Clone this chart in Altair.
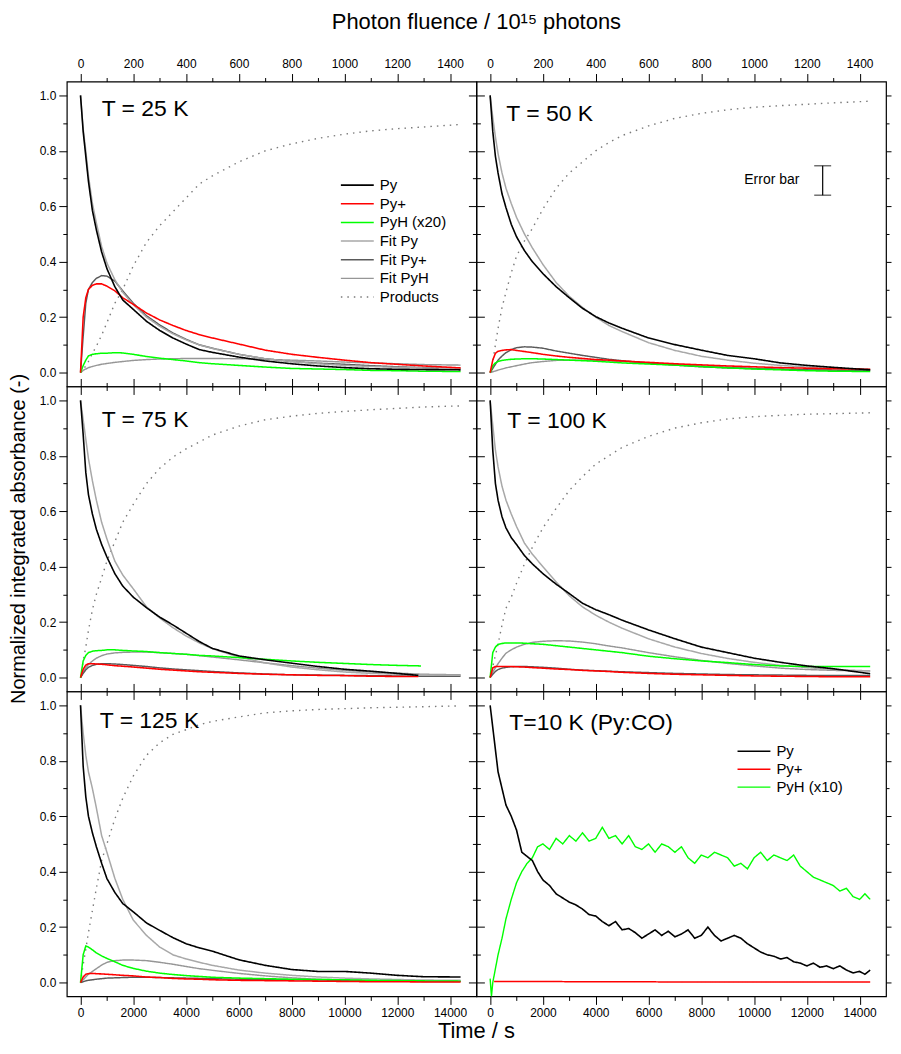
import altair as alt
import pandas as pd

FONT = "Liberation Sans"
W, H = 411, 306
X_DOMAIN = [-520, 15000]
Y_DOMAIN = [-0.05, 1.05]
X_MAJOR = [0, 2000, 4000, 6000, 8000, 10000, 12000, 14000]
X_MINOR = [1000, 3000, 5000, 7000, 9000, 11000, 13000]
Y_MAJOR = [0.0, 0.2, 0.4, 0.6, 0.8, 1.0]
Y_MINOR = [0.1, 0.3, 0.5, 0.7, 0.9]

# ---- time grids (s); photon fluence on the top axis is time / 10
t_grid = [0, 100, 200, 300, 450, 600, 800, 1000, 1300, 1600, 2000, 2500, 3000,
          3500, 4000, 4500, 5000, 6000, 7000, 8000, 9000, 10000, 11000, 12000,
          13000, 14400]
t_75_end = [0, 100, 200, 300, 450, 600, 800, 1000, 1300, 1600, 2000, 2500, 3000,
            3500, 4000, 4500, 5000, 6000, 7000, 8000, 9000, 10000, 11000, 12000, 12800]
t_75_pyh = [0, 100, 200, 300, 450, 600, 800, 1000, 1300, 1600, 2000, 2500, 3000,
            3500, 4000, 4500, 5000, 6000, 7000, 8000, 9000, 10000, 11000, 12000, 12900]
t_10 = [0, 50, 100, 200, 300, 450, 600, 800, 1000, 1200, 1400, 1600, 1800, 2000,
        2250, 2500, 2750, 3000, 3250, 3500, 3750, 4000, 4250, 4500, 4750, 5000,
        5250, 5500, 5750, 6000, 6250, 6500, 6750, 7000, 7250, 7500, 7750, 8000,
        8250, 8500, 8750, 9000, 9250, 9500, 9750, 10000, 10250, 10500, 10750, 11000,
        11250, 11500, 11750, 12000, 12250, 12500, 12750, 13000, 13250, 13500, 13750,
        14000, 14200, 14400]
t_10_pyp = [150, 4000, 8000, 14400]

# ---- T = 25 K
py25 = [1.0, 0.87, 0.78, 0.69, 0.585, 0.515, 0.435, 0.375, 0.31, 0.262, 0.228, 0.185, 0.152,
        0.125, 0.103, 0.083, 0.073, 0.056, 0.042, 0.032, 0.024, 0.018, 0.014, 0.012, 0.011, 0.01]
pyp25 = [0, 0.2, 0.27, 0.30, 0.315, 0.32, 0.32, 0.312, 0.295, 0.27, 0.246, 0.215, 0.19,
         0.17, 0.152, 0.137, 0.125, 0.103, 0.081, 0.066, 0.055, 0.045, 0.036, 0.03, 0.024, 0.017]
pyh25 = [0, 0.025, 0.045, 0.06, 0.066, 0.068, 0.07, 0.07, 0.072, 0.071, 0.066, 0.058, 0.052,
         0.047, 0.042, 0.036, 0.032, 0.026, 0.02, 0.015, 0.013, 0.011, 0.008, 0.007, 0.005, 0.004]
fpy25 = [1.0, 0.88, 0.80, 0.71, 0.61, 0.54, 0.455, 0.395, 0.335, 0.29, 0.245, 0.2, 0.167,
         0.14, 0.118, 0.1, 0.087, 0.066, 0.05, 0.04, 0.032, 0.026, 0.022, 0.019, 0.017, 0.015]
fpyp25 = [0, 0.13, 0.25, 0.3, 0.325, 0.34, 0.35, 0.348, 0.33, 0.295, 0.25, 0.205, 0.172,
          0.143, 0.12, 0.1, 0.088, 0.066, 0.05, 0.04, 0.034, 0.03, 0.025, 0.021, 0.018, 0.015]
fpyh25 = [0, 0.008, 0.013, 0.018, 0.022, 0.026, 0.03, 0.033, 0.037, 0.04, 0.044, 0.047, 0.049,
          0.05, 0.051, 0.051, 0.051, 0.05, 0.048, 0.045, 0.042, 0.038, 0.035, 0.032, 0.029, 0.027]
prod25 = [0, 0.01, 0.025, 0.04, 0.07, 0.095, 0.135, 0.18, 0.25, 0.30, 0.385, 0.47, 0.53,
          0.58, 0.63, 0.68, 0.71, 0.76, 0.80, 0.825, 0.845, 0.86, 0.872, 0.88, 0.886, 0.895]

# ---- T = 50 K
py50 = [1.0, 0.87, 0.78, 0.72, 0.645, 0.595, 0.535, 0.49, 0.44, 0.4, 0.357, 0.31, 0.27,
        0.232, 0.202, 0.179, 0.16, 0.125, 0.101, 0.081, 0.062, 0.05, 0.035, 0.026, 0.019, 0.01]
pyp50 = [0, 0.045, 0.07, 0.077, 0.08, 0.082, 0.083, 0.08, 0.076, 0.072, 0.066, 0.06, 0.055,
         0.051, 0.047, 0.045, 0.042, 0.037, 0.032, 0.028, 0.024, 0.021, 0.018, 0.016, 0.014, 0.012]
pyh50 = [0, 0.025, 0.035, 0.04, 0.044, 0.046, 0.048, 0.049, 0.05, 0.05, 0.049, 0.047, 0.045,
         0.043, 0.041, 0.038, 0.035, 0.031, 0.027, 0.022, 0.017, 0.013, 0.01, 0.007, 0.005, 0.004]
fpy50 = [1.0, 0.92, 0.85, 0.79, 0.72, 0.665, 0.61, 0.56, 0.5, 0.45, 0.39, 0.325, 0.275,
         0.235, 0.2, 0.17, 0.148, 0.108, 0.08, 0.059, 0.045, 0.034, 0.026, 0.02, 0.015, 0.012]
fpyp50 = [0, 0.015, 0.03, 0.045, 0.06, 0.072, 0.083, 0.09, 0.093, 0.092, 0.088, 0.078, 0.07,
          0.062, 0.055, 0.048, 0.043, 0.034, 0.027, 0.021, 0.017, 0.014, 0.012, 0.01, 0.009, 0.008]
fpyh50 = [0, 0.003, 0.006, 0.009, 0.013, 0.017, 0.021, 0.025, 0.031, 0.036, 0.04, 0.044, 0.045,
          0.045, 0.044, 0.042, 0.04, 0.035, 0.03, 0.025, 0.02, 0.016, 0.013, 0.011, 0.009, 0.008]
prod50 = [0, 0.04, 0.1, 0.16, 0.235, 0.29, 0.36, 0.42, 0.475, 0.52, 0.59, 0.665, 0.72,
          0.76, 0.8, 0.83, 0.855, 0.89, 0.917, 0.935, 0.948, 0.957, 0.963, 0.968, 0.973, 0.979]

# ---- T = 75 K (measured curves stop near 12800 s)
py75 = [1.0, 0.877, 0.74, 0.66, 0.59, 0.535, 0.48, 0.435, 0.375, 0.33, 0.29, 0.252, 0.218,
        0.19, 0.16, 0.13, 0.105, 0.078, 0.064, 0.052, 0.04, 0.03, 0.023, 0.015, 0.008]
pyp75 = [0, 0.03, 0.045, 0.05, 0.05, 0.049, 0.048, 0.046, 0.043, 0.041, 0.038, 0.034, 0.03,
         0.027, 0.024, 0.021, 0.019, 0.015, 0.012, 0.01, 0.008, 0.007, 0.005, 0.004, 0.004]
pyh75 = [0, 0.06, 0.08, 0.09, 0.095, 0.097, 0.098, 0.1, 0.1, 0.098, 0.096, 0.094, 0.09,
         0.087, 0.084, 0.08, 0.078, 0.072, 0.066, 0.06, 0.055, 0.051, 0.047, 0.044, 0.042]
fpy75 = [1.0, 0.93, 0.86, 0.79, 0.71, 0.64, 0.56, 0.50, 0.42, 0.37, 0.32, 0.255, 0.215,
         0.18, 0.15, 0.125, 0.104, 0.074, 0.053, 0.038, 0.028, 0.02, 0.015, 0.012, 0.01, 0.008]
fpyp75 = [0, 0.015, 0.028, 0.037, 0.044, 0.048, 0.05, 0.05, 0.049, 0.047, 0.044, 0.04, 0.035,
          0.031, 0.028, 0.025, 0.022, 0.017, 0.013, 0.01, 0.009, 0.008, 0.007, 0.006, 0.005, 0.005]
fpyh75 = [0, 0.02, 0.035, 0.047, 0.06, 0.07, 0.079, 0.085, 0.089, 0.091, 0.092, 0.092, 0.09,
          0.087, 0.084, 0.079, 0.074, 0.064, 0.053, 0.043, 0.034, 0.026, 0.02, 0.016, 0.012, 0.01]
prod75 = [0, 0.06, 0.11, 0.17, 0.245, 0.3, 0.36, 0.42, 0.49, 0.56, 0.625, 0.7, 0.755,
          0.795, 0.825, 0.85, 0.875, 0.907, 0.93, 0.943, 0.953, 0.96, 0.966, 0.971, 0.976, 0.98]

# ---- T = 100 K
py100 = [1.0, 0.82, 0.7, 0.64, 0.58, 0.54, 0.505, 0.48, 0.44, 0.41, 0.375, 0.337, 0.303,
         0.268, 0.245, 0.227, 0.207, 0.172, 0.14, 0.11, 0.09, 0.07, 0.055, 0.042, 0.032, 0.014]
pyp100 = [0, 0.035, 0.04, 0.04, 0.04, 0.04, 0.04, 0.039, 0.038, 0.036, 0.034, 0.031, 0.029,
          0.026, 0.024, 0.022, 0.019, 0.015, 0.012, 0.01, 0.008, 0.006, 0.005, 0.004, 0.003, 0.003]
pyh100 = [0, 0.09, 0.11, 0.12, 0.123, 0.125, 0.125, 0.125, 0.124, 0.122, 0.12, 0.115, 0.11,
          0.105, 0.1, 0.095, 0.09, 0.077, 0.068, 0.06, 0.054, 0.047, 0.042, 0.04, 0.04, 0.04]
fpy100 = [1.0, 0.91, 0.82, 0.76, 0.69, 0.64, 0.59, 0.545, 0.485, 0.445, 0.4, 0.345, 0.295,
          0.255, 0.225, 0.2, 0.178, 0.14, 0.11, 0.087, 0.069, 0.055, 0.044, 0.036, 0.029, 0.024]
fpyp100 = [0, 0.012, 0.022, 0.029, 0.034, 0.037, 0.039, 0.04, 0.04, 0.039, 0.037, 0.034, 0.03,
           0.027, 0.025, 0.023, 0.021, 0.018, 0.015, 0.013, 0.011, 0.01, 0.009, 0.008, 0.008, 0.008]
fpyh100 = [0, 0.02, 0.035, 0.05, 0.07, 0.088, 0.1, 0.11, 0.12, 0.127, 0.131, 0.133, 0.132,
           0.128, 0.122, 0.114, 0.107, 0.09, 0.075, 0.062, 0.051, 0.042, 0.034, 0.029, 0.026, 0.024]
prod100 = [0, 0.04, 0.08, 0.12, 0.19, 0.25, 0.29, 0.34, 0.41, 0.47, 0.54, 0.61, 0.675,
           0.725, 0.77, 0.8, 0.83, 0.87, 0.9, 0.919, 0.933, 0.941, 0.946, 0.95, 0.952, 0.955]

# ---- T = 125 K
py125 = [1.0, 0.78, 0.67, 0.6, 0.54, 0.49, 0.43, 0.375, 0.325, 0.285, 0.255, 0.215, 0.188,
         0.162, 0.14, 0.125, 0.113, 0.082, 0.062, 0.047, 0.04, 0.04, 0.034, 0.026, 0.021, 0.02]
pyp125 = [0, 0.02, 0.03, 0.032, 0.033, 0.032, 0.031, 0.03, 0.028, 0.026, 0.024, 0.02, 0.018,
          0.015, 0.013, 0.012, 0.01, 0.008, 0.007, 0.006, 0.005, 0.004, 0.003, 0.003, 0.002, 0.002]
pyh125 = [0, 0.1, 0.132, 0.128, 0.118, 0.107, 0.096, 0.087, 0.075, 0.062, 0.051, 0.041, 0.034,
          0.029, 0.025, 0.022, 0.019, 0.016, 0.014, 0.012, 0.011, 0.01, 0.008, 0.007, 0.006, 0.005]
fpy125 = [1.0, 0.9, 0.82, 0.76, 0.7, 0.63, 0.53, 0.47, 0.376, 0.3, 0.225, 0.17, 0.128,
          0.1, 0.085, 0.073, 0.062, 0.045, 0.034, 0.026, 0.02, 0.016, 0.013, 0.011, 0.009, 0.008]
fpyp125 = [0, 0.003, 0.006, 0.008, 0.01, 0.012, 0.014, 0.016, 0.017, 0.018, 0.019, 0.019, 0.018,
           0.017, 0.016, 0.015, 0.014, 0.012, 0.011, 0.01, 0.009, 0.008, 0.007, 0.006, 0.005, 0.005]
fpyh125 = [0, 0.01, 0.02, 0.03, 0.04, 0.05, 0.063, 0.073, 0.079, 0.081, 0.081, 0.079, 0.073,
           0.066, 0.058, 0.05, 0.044, 0.033, 0.024, 0.017, 0.012, 0.009, 0.007, 0.005, 0.004, 0.004]
prod125 = [0, 0.065, 0.12, 0.18, 0.26, 0.34, 0.44, 0.5, 0.59, 0.665, 0.745, 0.82, 0.865,
           0.895, 0.912, 0.93, 0.942, 0.958, 0.973, 0.98, 0.985, 0.988, 0.991, 0.993, 0.995, 0.998]

# ---- T = 10 K, Py:CO mixture (no fits)
py10 = [1.0, 0.96, 0.92, 0.84, 0.76, 0.70, 0.64, 0.60, 0.55, 0.47, 0.455, 0.44, 0.40, 0.37,
        0.35, 0.32, 0.305, 0.29, 0.28, 0.265, 0.245, 0.24, 0.22, 0.205, 0.22, 0.19,
        0.195, 0.18, 0.16, 0.175, 0.19, 0.17, 0.185, 0.165, 0.175, 0.19, 0.16, 0.17,
        0.2, 0.17, 0.15, 0.16, 0.17, 0.16, 0.14, 0.125, 0.11, 0.1, 0.095, 0.085,
        0.09, 0.075, 0.07, 0.06, 0.07, 0.055, 0.06, 0.05, 0.06, 0.045, 0.035, 0.04, 0.03, 0.045]
pyh10 = [0.014, -0.05, 0.0, 0.05, 0.1, 0.16, 0.23, 0.3, 0.36, 0.4, 0.43, 0.45, 0.49, 0.5,
         0.48, 0.52, 0.5, 0.53, 0.51, 0.54, 0.51, 0.52, 0.56, 0.52, 0.53, 0.5,
         0.53, 0.49, 0.48, 0.5, 0.47, 0.5, 0.49, 0.47, 0.49, 0.45, 0.43, 0.46,
         0.45, 0.47, 0.46, 0.45, 0.42, 0.43, 0.41, 0.45, 0.47, 0.44, 0.46, 0.45,
         0.44, 0.46, 0.42, 0.4, 0.38, 0.37, 0.36, 0.35, 0.33, 0.34, 0.31, 0.3, 0.32, 0.3]
pyp10 = [0.004, 0.003, 0.002, 0.002]

# ---- error-bar annotation of the 50 K panel
err_t = [12600]
err_lo = [0.64]
err_hi = [0.746]

SERIES = ["Py", "Py+", "PyH (x20)", "Fit Py", "Fit Py+", "Fit PyH", "Products"]
COLORS = ["#000000", "#ff0000", "#00ff00", "#a8a8a8", "#5a5a5a", "#969696", "#7a7a7a"]
DASHES = [[1, 0], [1, 0], [1, 0], [1, 0], [1, 0], [1, 0], [1.5, 5]]
WIDTHS = [1.6, 1.4, 1.5, 1.2, 1.2, 1.2, 1.5]
SERIES_CO = ["Py", "Py+", "PyH (x10)"]
COLORS_CO = ["#000000", "#ff0000", "#00ff00"]
DASHES_CO = [[1, 0], [1, 0], [1, 0]]
WIDTHS_CO = [1.6, 1.4, 1.5]

xs = alt.Scale(domain=X_DOMAIN, nice=False, zero=False)
ys = alt.Scale(domain=Y_DOMAIN, nice=False, zero=False)


def frame(curves):
    # drawn back to front: products, fits, then measured curves
    rows = []
    for name, ts, vs in curves:
        rows += [{"t": t, "v": v, "s": name} for t, v in zip(ts, vs)]
    return pd.DataFrame(rows)


def kinetics(py, pyp, pyh, fpy, fpyp, fpyh, prod, t_data=t_grid, t_pyh=t_grid):
    return frame([("Products", t_grid, prod), ("Fit PyH", t_grid, fpyh),
                  ("Fit Py+", t_grid, fpyp), ("Fit Py", t_grid, fpy),
                  ("PyH (x20)", t_pyh, pyh), ("Py+", t_data, pyp), ("Py", t_data, py)])


def axis(orient, values, size, labels=False, **kw):
    return alt.Axis(orient=orient, values=values, tickSize=size, tickWidth=1,
                    tickColor="black", domain=False, grid=False, labels=labels,
                    title=None, labelFont=FONT, labelFontSize=12, labelColor="black",
                    labelPadding=3, **kw)


def ghost(x_axis, y_axis):
    return (alt.Chart(pd.DataFrame({"t": [0], "v": [0]}))
            .mark_point(opacity=0)
            .encode(x=alt.X("t:Q", scale=xs, axis=x_axis),
                    y=alt.Y("v:Q", scale=ys, axis=y_axis)))


def text(label, x, y, size, **kw):
    return (alt.Chart(pd.DataFrame({"label": [label]}))
            .mark_text(font=FONT, fontSize=size, color="black", **kw)
            .encode(x=alt.value(x), y=alt.value(y), text="label:N"))


def panel(df, names, colors, dashes, widths, label, lx, ly, row, col,
          legend_xy=None, extras=()):
    r_major, r_minor = (5, 3) if col == 1 else (8, 4)
    if legend_xy:
        leg = alt.Legend(orient="none", legendX=legend_xy[0], legendY=legend_xy[1],
                         title=None, symbolType="stroke", symbolSize=1089,
                         symbolStrokeWidth=1.5, labelFont=FONT, labelFontSize=15,
                         labelColor="black", labelOffset=5, clipHeight=18,
                         rowPadding=legend_xy[2], padding=0)
    else:
        leg = None
    lines = (
        alt.Chart(df)
        .mark_line(clip=True)
        .encode(
            x=alt.X("t:Q", scale=xs,
                    axis=axis("bottom", X_MAJOR, 8, row == 2, format="d")),
            y=alt.Y("v:Q", scale=ys,
                    axis=axis("left", Y_MAJOR, 8, col == 0, format=".1f")),
            color=alt.Color("s:N", scale=alt.Scale(domain=names, range=colors), legend=leg),
            strokeDash=alt.StrokeDash("s:N", scale=alt.Scale(domain=names, range=dashes),
                                      legend=leg),
            strokeWidth=alt.StrokeWidth("s:N", scale=alt.Scale(domain=names, range=widths),
                                        legend=None),
        )
    )
    layers = [
        lines,
        ghost(axis("top", X_MAJOR, 8, row == 0, labelExpr="datum.value / 10"),
              axis("right", Y_MAJOR, r_major)),
        ghost(axis("bottom", X_MINOR, 4), axis("left", Y_MINOR, 4)),
        ghost(axis("top", X_MINOR, 4), axis("right", Y_MINOR, r_minor)),
        text(label, lx, ly, 23, align="left", baseline="alphabetic"),
        *extras,
    ]
    return (alt.layer(*layers)
            .resolve_axis(x="independent", y="independent")
            .properties(width=W, height=H))


err_df = pd.DataFrame({"t": err_t, "lo": err_lo, "hi": err_hi})
error_bar = [
    alt.Chart(err_df).mark_rule(color="black", strokeWidth=1.2).encode(
        x=alt.X("t:Q", scale=xs, axis=None), y=alt.Y("lo:Q", scale=ys, axis=None),
        y2="hi:Q"),
    alt.Chart(err_df).mark_tick(orient="horizontal", size=17, thickness=1.2,
                                color="black").encode(
        x=alt.X("t:Q", scale=xs, axis=None), y=alt.Y("lo:Q", scale=ys, axis=None)),
    alt.Chart(err_df).mark_tick(orient="horizontal", size=17, thickness=1.2,
                                color="black").encode(
        x=alt.X("t:Q", scale=xs, axis=None), y=alt.Y("hi:Q", scale=ys, axis=None)),
    text("Error bar", 324, 99, 14, align="right", baseline="middle"),
]

p25 = panel(kinetics(py25, pyp25, pyh25, fpy25, fpyp25, fpyh25, prod25),
            SERIES, COLORS, DASHES, WIDTHS, "T = 25 K", 35, 35, 0, 0,
            legend_xy=(274, 95, 0.7),
            extras=[text("Photon fluence / 10¹⁵ photons", W, -60, 22,
                         align="center", baseline="middle")])
p50 = panel(kinetics(py50, pyp50, pyh50, fpy50, fpyp50, fpyh50, prod50),
            SERIES, COLORS, DASHES, WIDTHS, "T = 50 K", 30, 40, 0, 1, extras=error_bar)
p75 = panel(kinetics(py75, pyp75, pyh75, fpy75, fpyp75, fpyh75, prod75,
                     t_data=t_75_end, t_pyh=t_75_pyh),
            SERIES, COLORS, DASHES, WIDTHS, "T = 75 K", 35, 41, 1, 0,
            extras=[text("Normalized integrated absorbance (-)", -48, H / 2, 20,
                         align="center", baseline="middle", angle=270)])
p100 = panel(kinetics(py100, pyp100, pyh100, fpy100, fpyp100, fpyh100, prod100),
             SERIES, COLORS, DASHES, WIDTHS, "T = 100 K", 31, 42, 1, 1)
p125 = panel(kinetics(py125, pyp125, pyh125, fpy125, fpyp125, fpyh125, prod125),
             SERIES, COLORS, DASHES, WIDTHS, "T = 125 K", 33, 37, 2, 0,
             extras=[text("Time / s", W, H + 35, 22, align="center", baseline="middle")])
p10 = panel(frame([("PyH (x10)", t_10, pyh10), ("Py+", t_10_pyp, pyp10), ("Py", t_10, py10)]),
            SERIES_CO, COLORS_CO, DASHES_CO, WIDTHS_CO, "T=10 K (Py:CO)", 33, 39, 2, 1,
            legend_xy=(261, 51, 0))

chart = (
    alt.concat(p25, p50, p75, p100, p125, p10, columns=2, spacing=0, bounds="flush",
               padding=0, background="white")
    .resolve_scale(color="independent", strokeDash="independent",
                   strokeWidth="independent")
    .configure_view(stroke="black", strokeWidth=1.2)
)

chart.save("out.html", embed_options={"renderer": "svg", "actions": False})
